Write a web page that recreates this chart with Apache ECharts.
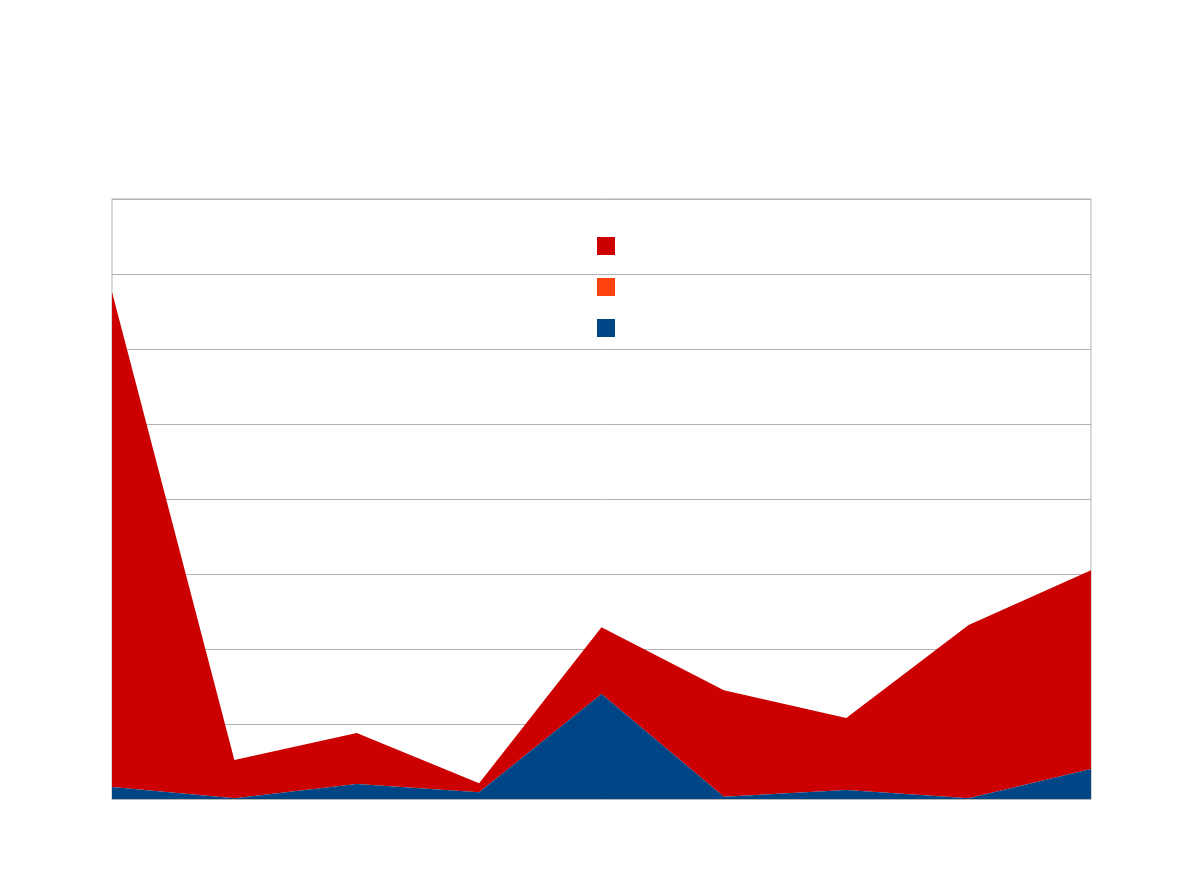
<!DOCTYPE html>
<html>
<head>
<meta charset="utf-8">
<script src="https://cdn.jsdelivr.net/npm/echarts@6/dist/echarts.min.js"></script>
<style>
  html, body { margin: 0; padding: 0; background: #fff; }
  #chart { width: 1191px; height: 893px; }
</style>
</head>
<body>
<div id="chart"></div>
<script>
  // categories have no visible labels in the source
  const categories = ['1', '2', '3', '4', '5', '6', '7', '8', '9']
  const seriesNames = ['Series A', 'Series B', 'Series C']
  const blueValues = [1.6, 0.1, 2.0, 0.9, 14.0, 0.3, 1.2, 0.1, 4.0]
  const orangeValues = [0, 0, 0, 0, 0, 0, 0, 0, 0]
  const redValues = [66.0, 5.1, 6.8, 1.2, 8.9, 14.2, 9.6, 23.1, 26.5]
  const yMax = 80
  const yStep = 10

  const myChart = echarts.init(document.getElementById('chart'))

  const option = {
    animation: false,
    backgroundColor: '#fff',
    legend: {
      orient: 'vertical',
      left: 592,
      top: 232,
      icon: 'rect',
      itemWidth: 18,
      itemHeight: 18,
      itemGap: 23,
      data: [seriesNames[0], seriesNames[1], seriesNames[2]],
      formatter: () => '', // labels are blank in the reference
      selectedMode: false,
    },
    grid: {
      left: 112,
      right: 100,
      top: 199,
      bottom: 94,
      show: true,
      borderColor: '#b3b3b3',
      borderWidth: 1,
    },
    xAxis: {
      type: 'category',
      data: categories,
      boundaryGap: false,
      axisLabel: { show: false },
      axisTick: { show: false },
      axisLine: { show: true, lineStyle: { color: '#b3b3b3' } },
    },
    yAxis: {
      type: 'value',
      min: 0,
      max: yMax,
      interval: yStep,
      axisLabel: { show: false },
      axisTick: { show: false },
      axisLine: { show: false },
      splitLine: { lineStyle: { color: '#b3b3b3', width: 1 } },
    },
    series: [
      {
        name: seriesNames[2],
        type: 'line',
        stack: 'total',
        symbol: 'none',
        lineStyle: { width: 0 },
        areaStyle: { color: '#004586', opacity: 1 },
        itemStyle: { color: '#004586' },
        data: blueValues,
        z: 3,
      },
      {
        name: seriesNames[1],
        type: 'line',
        stack: 'total',
        symbol: 'none',
        lineStyle: { width: 0 },
        areaStyle: { color: '#ff420e', opacity: 1 },
        itemStyle: { color: '#ff420e' },
        data: orangeValues,
        z: 2,
      },
      {
        name: seriesNames[0],
        type: 'line',
        stack: 'total',
        symbol: 'none',
        lineStyle: { width: 0 },
        areaStyle: { color: '#cc0000', opacity: 1 },
        itemStyle: { color: '#cc0000' },
        data: redValues,
        z: 1,
      },
    ],
  }

  myChart.setOption(option)
</script>
</body>
</html>
